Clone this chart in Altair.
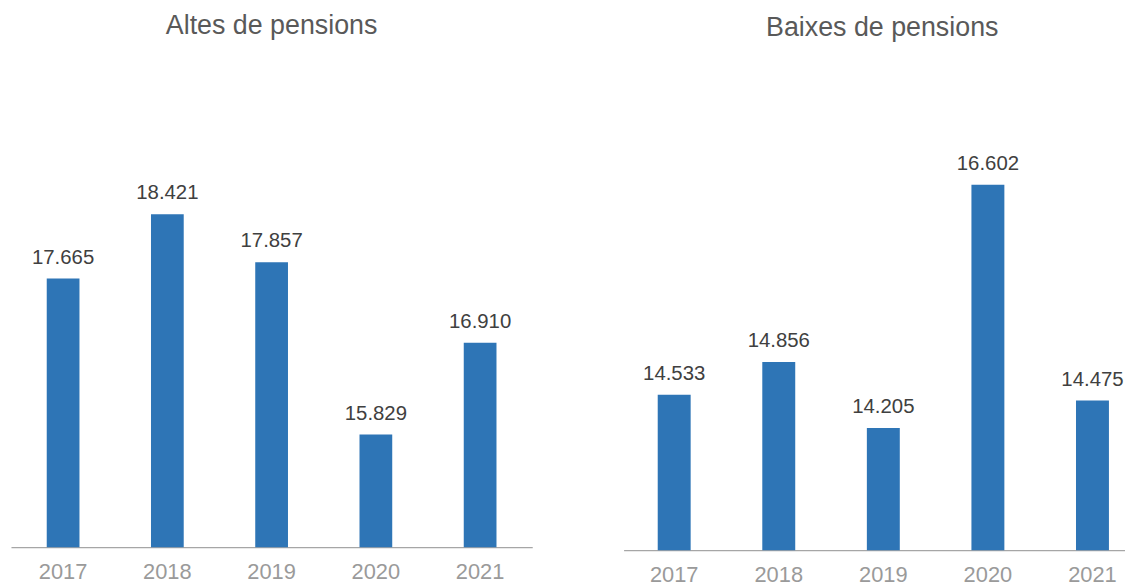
import altair as alt
import pandas as pd

years = ["2017", "2018", "2019", "2020", "2021"]
altes = [17665, 18421, 17857, 15829, 16910]
baixes = [14533, 14856, 14205, 16602, 14475]

titles = ["Altes de pensions", "Baixes de pensions"]

FONT = "Liberation Sans"


def fmt(v):
    return f"{v:,}".replace(",", ".")


def panel(values, title, ymin, ymax, width, height, p_inner, pad_outer, align, tdx, tdy):
    df = pd.DataFrame({"year": years, "value": values,
                       "label": [fmt(v) for v in values]})
    base = alt.Chart(df).encode(
        x=alt.X("year:N", sort=years,
                scale=alt.Scale(paddingInner=p_inner, paddingOuter=pad_outer, align=align),
                axis=alt.Axis(title=None, labelAngle=0, ticks=False,
                              domainColor="#A6A6A6", domainWidth=1.2,
                              labelColor="#9A9A9A", labelFontSize=22,
                              labelFont=FONT, labelPadding=15)),
        y=alt.Y("value:Q",
                scale=alt.Scale(domain=[ymin, ymax], nice=False, zero=False),
                axis=None),
    )
    bars = base.mark_bar(color="#2E75B6", clip=True)
    text = base.mark_text(baseline="alphabetic", dy=-15, fontSize=20.5,
                          color="#404040", font=FONT).encode(text="label:N")
    return alt.layer(bars, text).properties(
        width=width, height=height,
        title=alt.TitleParams(title, fontSize=27, font=FONT, fontWeight="normal",
                              color="#595959", anchor="middle", baseline="middle",
                              offset=9, dx=tdx, dy=tdy),
    )


left = panel(altes, titles[0], 14500, 20196, 525, 487, 0.686, 0.343, 0.5, 0, -2)
right = panel(baixes, titles[1], 13000, 17795, 505, 490, 0.685, 0.24, 0.68, 8, 0)

chart = alt.hconcat(left, right, spacing=92).properties(
    padding={"left": 3, "top": 2, "right": 0, "bottom": 0}
).configure_view(strokeWidth=0)

chart.save("out.html", embed_options={"renderer": "svg", "actions": False})
